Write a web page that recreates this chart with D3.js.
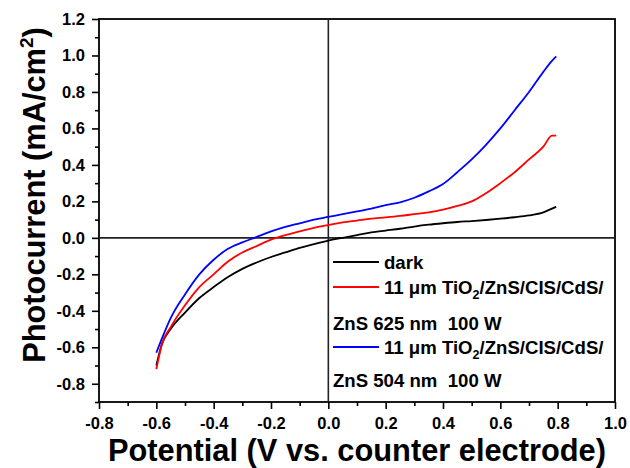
<!DOCTYPE html>
<html>
<head>
<meta charset="utf-8">
<script src="https://cdn.jsdelivr.net/npm/d3@7"></script>
<style>
  body { margin: 0; background: #fff; }
  svg { display: block; font-family: "Liberation Sans", Arial, sans-serif; font-weight: bold; }
  .tick text { font-size: 16.5px; font-weight: bold; fill: #000; }
  .axis path, .axis line { stroke: #000; stroke-width: 1.6; }
</style>
</head>
<body>
<svg width="630" height="468"></svg>
<script>
// potential (V vs. counter electrode)
const potential = [-0.6, -0.58, -0.55, -0.5, -0.45, -0.4, -0.35, -0.3, -0.25, -0.2, -0.15, -0.1, -0.05,
  0, 0.05, 0.1, 0.15, 0.2, 0.25, 0.3, 0.35, 0.4, 0.45, 0.5, 0.55, 0.6, 0.65, 0.7, 0.75, 0.78, 0.795];

// photocurrent (mA/cm2)
const dark = [-0.7, -0.58, -0.5, -0.41, -0.33, -0.27, -0.215, -0.17, -0.135, -0.105, -0.08, -0.055, -0.035,
  -0.015, 0.0, 0.015, 0.03, 0.04, 0.05, 0.062, 0.072, 0.08, 0.087, 0.092, 0.098, 0.105, 0.113, 0.123, 0.14, 0.16, 0.17];
const red625 = [-0.72, -0.58, -0.49, -0.37, -0.27, -0.2, -0.13, -0.08, -0.045, -0.01, 0.015, 0.035, 0.055,
  0.07, 0.085, 0.095, 0.105, 0.112, 0.12, 0.13, 0.14, 0.155, 0.175, 0.2, 0.245, 0.3, 0.36, 0.43, 0.5, 0.56, 0.56];
const blue504 = [-0.63, -0.55, -0.44, -0.31, -0.2, -0.12, -0.06, -0.025, 0.005, 0.035, 0.06, 0.08, 0.1,
  0.115, 0.13, 0.145, 0.16, 0.18, 0.195, 0.22, 0.255, 0.295, 0.36, 0.43, 0.51, 0.6, 0.7, 0.8, 0.91, 0.97, 0.995];

const xTicks = [-0.8, -0.6, -0.4, -0.2, 0.0, 0.2, 0.4, 0.6, 0.8, 1.0];
const yTicks = [-0.8, -0.6, -0.4, -0.2, 0.0, 0.2, 0.4, 0.6, 0.8, 1.0, 1.2];

const series = [
  { name: "dark", values: dark, color: "#000000" },
  { name: "625", values: red625, color: "#ff0000" },
  { name: "504", values: blue504, color: "#0000ff" }
];

const svg = d3.select("svg"),
      margin = { top: 19, right: 15, bottom: 66, left: 99 },
      width = +svg.attr("width") - margin.left - margin.right,
      height = +svg.attr("height") - margin.top - margin.bottom;

const chart = svg.append("g")
  .attr("transform", `translate(${margin.left},${margin.top})`);

const x = d3.scaleLinear().domain([-0.8, 1.0]).range([0, width]);
const y = d3.scaleLinear().domain([-0.9, 1.2]).range([height, 0]);

// plain hyphen instead of unicode minus
const fmt = d => d.toFixed(1);

// minor ticks
const xMinor = d3.range(-0.7, 1.0, 0.2);
const yMinor = d3.range(-0.9, 1.2, 0.2);

chart.append("g")
  .attr("class", "axis")
  .attr("transform", `translate(0,${height})`)
  .call(d3.axisBottom(x).tickValues(xMinor).tickSize(4).tickFormat(""));
chart.append("g")
  .attr("class", "axis")
  .call(d3.axisLeft(y).tickValues(yMinor).tickSize(4).tickFormat(""));

chart.append("g")
  .attr("class", "axis")
  .attr("transform", `translate(0,${height})`)
  .call(d3.axisBottom(x).tickValues(xTicks).tickSize(7).tickPadding(8).tickFormat(fmt));
chart.append("g")
  .attr("class", "axis")
  .call(d3.axisLeft(y).tickValues(yTicks).tickSize(7).tickPadding(7).tickFormat(fmt));

chart.selectAll(".axis .domain").remove();

// frame
chart.append("rect")
  .attr("width", width)
  .attr("height", height)
  .attr("fill", "none")
  .attr("stroke", "#000")
  .attr("stroke-width", 1.8);

// zero lines
chart.append("line")
  .attr("x1", 0).attr("x2", width)
  .attr("y1", y(0)).attr("y2", y(0))
  .attr("stroke", "#222").attr("stroke-width", 1.6);
chart.append("line")
  .attr("x1", x(0)).attr("x2", x(0))
  .attr("y1", 0).attr("y2", height)
  .attr("stroke", "#222").attr("stroke-width", 1.6);

const line = d3.line()
  .x((d, i) => x(potential[i]))
  .y(d => y(d))
  .curve(d3.curveMonotoneX);

chart.selectAll(".curve")
  .data(series)
  .enter().append("path")
  .attr("class", "curve")
  .attr("fill", "none")
  .attr("stroke", d => d.color)
  .attr("stroke-width", 1.8)
  .attr("d", d => line(d.values));

// legend
const legend = svg.append("g").style("font-size", "18.6px");
const legendRows = [
  { y: 262, color: "#000000", parts: [["dark"]] },
  { y: 287, color: "#ff0000", parts: [["11 \u03bcm TiO"], ["2", "sub"], ["/ZnS/CIS/CdS/"]] },
  { y: 323, color: null, parts: [["ZnS 625 nm  100 W"]] },
  { y: 347, color: "#0000ff", parts: [["11 \u03bcm TiO"], ["2", "sub"], ["/ZnS/CIS/CdS/"]] },
  { y: 380, color: null, parts: [["ZnS 504 nm  100 W"]] }
];
legendRows.forEach(r => {
  if (r.color) {
    legend.append("line")
      .attr("x1", 333).attr("x2", 379)
      .attr("y1", r.y).attr("y2", r.y)
      .attr("stroke", r.color).attr("stroke-width", 1.8);
  }
  const t = legend.append("text")
    .attr("x", r.color ? 384 : 333)
    .attr("y", r.y + 6.5)
    .style("white-space", "pre");
  r.parts.forEach(p => {
    const s = t.append("tspan").text(p[0]);
    if (p[1] === "sub") s.attr("dy", 5).style("font-size", "12.5px");
    else if (s.node().previousSibling) s.attr("dy", -5);
  });
});

// axis titles
svg.append("text")
  .attr("x", margin.left + width / 2)
  .attr("y", 461)
  .attr("text-anchor", "middle")
  .style("font-size", "30.8px")
  .text("Potential (V vs. counter electrode)");

const yt = svg.append("text")
  .attr("transform", "translate(45,195) rotate(-90)")
  .attr("text-anchor", "middle")
  .style("font-size", "30.8px");
yt.append("tspan").text("Photocurrent (mA/cm");
yt.append("tspan").text("2").attr("dy", -12).style("font-size", "19px");
yt.append("tspan").text(")").attr("dy", 12);
</script>
</body>
</html>
